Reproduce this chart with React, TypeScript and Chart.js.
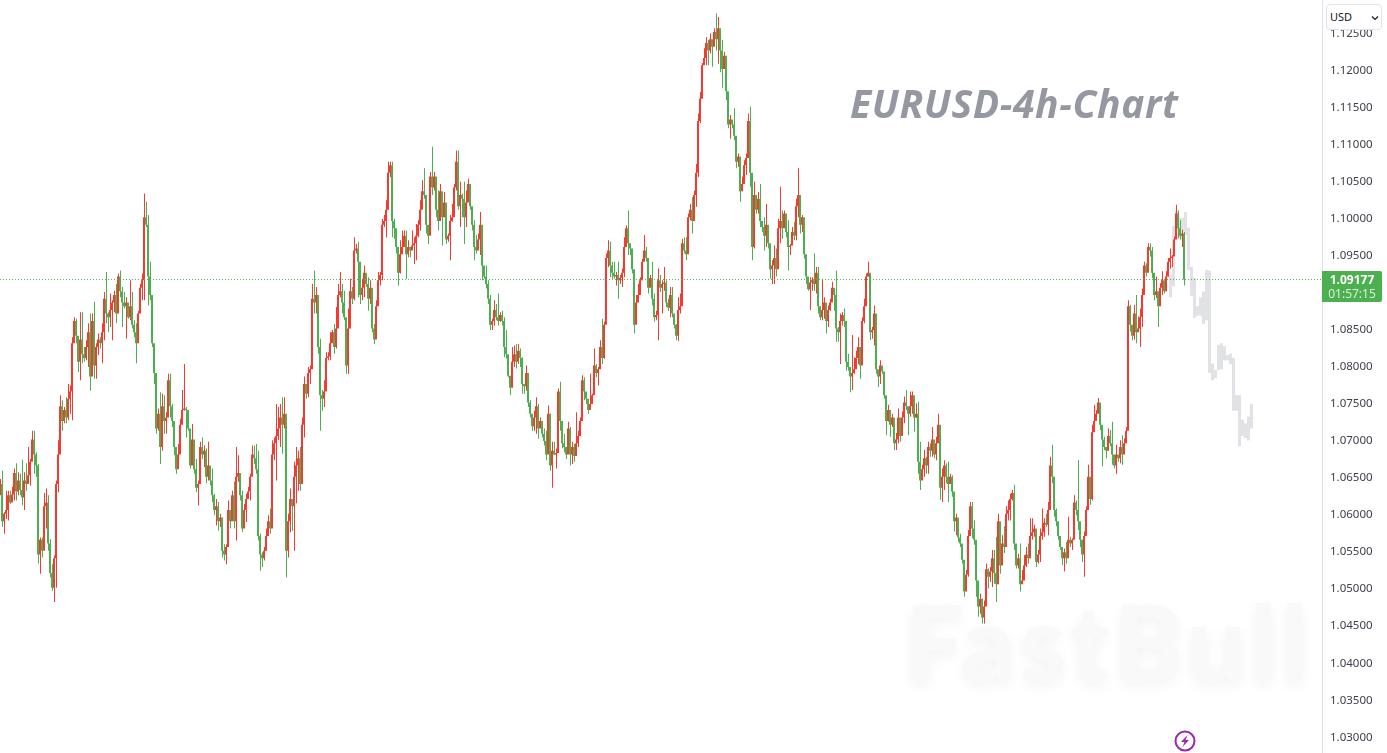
import React, { useEffect, useRef } from "react";
import { Chart, registerables } from "chart.js";

Chart.register(...registerables);

const PIP = 0.0001;
const readingOffsetPips = 1.75;
const upColor = "#F7392F";
const downColor = "#4CAF50";
const ghostColor = "#E1E2E6";
const lastPrice = 1.09177;
const lastLabel = "1.09177";
const countdown = "01:57:15";
const tickValues = [1.03, 1.035, 1.04, 1.045, 1.05, 1.055, 1.06, 1.065, 1.07, 1.075, 1.08, 1.085, 1.09, 1.095, 1.1, 1.105, 1.11, 1.115, 1.12, 1.125];

const highs = [
10647,10658,10602,10631,10631,10631,10636,10661,10668,10656,
10654,10673,10656,10668,10690,10674,10712,10712,10683,10667,
10568,10568,10628,10634,10625,10566,10532,10544,10645,10699,
10760,10753,10744,10757,10775,10773,10838,10865,10863,10838,
10872,10872,10825,10834,10857,10870,10870,10886,10830,10843,
10838,10857,10899,10926,10872,10897,10888,10901,10910,10924,
10928,10906,10899,10892,10872,10915,10899,10861,10857,10874,
10910,10924,11032,11021,11003,10940,10874,10825,10740,10742,
10764,10762,10760,10737,10789,10789,10748,10710,10681,10694,
10728,10767,10802,10744,10733,10690,10721,10694,10674,10645,
10697,10703,10692,10688,10697,10663,10661,10627,10620,10616,
10600,10595,10559,10559,10618,10600,10631,10643,10690,10679,
10645,10631,10613,10627,10636,10654,10692,10692,10694,10685,
10573,10548,10555,10580,10598,10607,10699,10703,10748,10744,
10748,10757,10757,10733,10600,10634,10620,10670,10690,10685,
10690,10730,10785,10775,10798,10800,10910,10928,10906,10895,
10836,10767,10780,10818,10818,10845,
10848,10856,10879,10910,10926,10910,10901,10863,10877,10917,
10906,10973,10964,10967,10910,10917,10935,10922,10919,10915,
10888,10856,10888,10926,10926,10998,11003,11023,11075,11075,
11075,10998,10982,10937,10969,10982,10982,10982,10969,10960,
10982,10973,10991,10996,11023,11050,11066,11018,10982,11061,
11095,11061,11030,11036,11045,11025,11034,10978,10978,11003,
11018,11045,11090,11090,11048,11032,11048,11036,11052,11030,
11005,10996,10976,10978,11007,10946,10926,10935,10915,10895,
10863,10888,10883,10897,10872,10874,10865,10848,10793,10775,
10825,10827,10829,10829,10823,10811,10775,10800,10766,10753,
10730,10739,10757,10748,10730,10715,10715,10712,10746,10735,
10697,10697,10688,10769,10778,10710,10708,10690,10724,10717,
10697,10694,10737,10712,10730,10787,10784,10762,10746,10789,
10762,10823,10802,10798,10834,10863,10859,10951,10969,10967,
10940,10940,10926,10940,10922,10931,10973,10989,11009,10960,
10951,10897,10895,10910,10919,
10944,10976,10960,10940,10922,10940,10897,10874,10931,10922,
10915,10933,10915,10890,10906,10906,10865,10856,10892,10897,
10971,10973,10973,11005,11018,11027,11036,11072,11140,11169,
11208,11228,11243,11239,11248,11239,11255,11275,11270,11237,
11239,11223,11216,11158,11138,11131,11147,11104,11086,11055,
11055,11077,11086,11140,11149,10987,11048,11027,11034,11045,
10991,11000,11018,10987,10958,10942,10962,10958,10998,11041,
11009,11009,10991,10996,10964,10987,10994,11025,11066,11014,
11003,10978,10942,10910,10919,10919,10951,10933,10933,10870,
10917,10892,10879,10881,10890,10913,10901,10928,10852,10870,
10872,10877,10823,10816,10789,10841,10811,10820,10838,10818,
10865,10890,10924,10940,10883,10852,10881,10827,10789,10807,
10798,10789,
10756,10747,10740,10735,10717,10709,10742,10717,10738,10758,
10767,10738,10765,10765,10747,10749,10751,10697,10666,10686,
10677,10697,10695,10717,10699,10704,10735,10664,10661,10672,
10668,10670,10654,10652,10623,10600,10573,10573,10549,10515,
10524,10578,10616,10616,10591,10560,10506,10492,10486,10483,
10533,10526,10528,10551,10551,10569,10600,10544,10571,10583,
10610,10618,10627,10632,10639,10549,10546,10560,10524,10544,
10555,10560,10594,10594,10585,10544,10551,10580,10607,10594,
10600,10616,10677,10693,10625,10607,10585,10567,10551,10553,
10562,10596,10569,10567,10625,10618,10672,10578,10565,10576,
10610,10666,10632,10720,10747,10740,10756,10749,10713,10704,
10690,10715,10713,10724,10675,10693,10679,10699,10706,10702,
10717,10888,
10882,10852,10882,10895,10866,10877,10904,10940,10938,10965,
10965,10960,10922,10920,10891,10911,10927,10911,10927,10945,
10958,10949,10974,11017,11009,10996,10983,10980,
];

const lows = [
10625,10582,10573,10593,10591,10613,10618,10618,10618,10625,
10625,10611,10605,10631,10645,10638,10679,10654,10650,10533,
10519,10541,10560,10580,10550,10514,10496,10481,10500,10629,
10712,10712,10722,10722,10726,10735,10726,10832,10830,10791,
10780,10803,10805,10807,10798,10766,10803,10782,10782,10814,
10823,10803,10834,10857,10845,10852,10834,10872,10857,10897,
10892,10852,10877,10836,10863,10861,10850,10838,10803,10845,
10886,10888,10888,10987,10881,10888,10825,10775,10708,10712,
10667,10685,10708,10708,10746,10730,10717,10679,10654,10661,
10690,10728,10739,10703,10712,10661,10667,10654,10629,10611,
10645,10674,10663,10641,10645,10638,10616,10598,10584,10577,
10582,10541,10537,10532,10577,10580,10595,10580,10564,10643,
10618,10575,10593,10589,10622,10618,10656,10667,10654,10564,
10523,10528,10537,10550,10573,10573,10634,10672,10645,10699,
10690,10681,10715,10514,10541,10575,10577,10550,10614,10631,
10631,10649,10703,10755,10757,10775,10854,10870,10870,10816,
10712,10739,10744,10793,10807,10807,
10834,10816,10823,10859,10892,10870,10861,10789,10789,10856,
10883,10888,10951,10892,10883,10888,10892,10906,10874,10883,
10845,10829,10845,10892,10908,10915,10987,10973,11032,11054,
10973,10971,10951,10908,10924,10953,10960,10917,10946,10946,
10958,10937,10942,10973,10982,11014,11025,10978,10964,11030,
11030,11036,11000,10982,11018,10962,11000,10964,10967,10942,
10994,11027,11036,11010,10987,11000,10964,10987,11025,11010,
10982,10942,10951,10964,10949,10915,10917,10904,10883,10848,
10848,10854,10861,10854,10859,10854,10811,10809,10784,10760,
10782,10798,10796,10802,10798,10762,10762,10766,10744,10730,
10712,10712,10708,10701,10717,10703,10692,10672,10697,10658,
10635,10679,10661,10753,10712,10688,10683,10674,10703,10665,
10667,10670,10690,10690,10708,10739,10753,10748,10735,10744,
10748,10762,10784,10773,10816,10802,10809,10859,10933,10919,
10917,10917,10908,10890,10910,10906,10919,10967,10949,10949,
10924,10843,10877,10888,10899,
10915,10944,10940,10897,10910,10881,10859,10861,10834,10899,
10870,10901,10879,10874,10865,10865,10850,10834,10833,10870,
10895,10951,10942,10987,10996,10978,10996,11014,11054,11127,
11201,11208,11205,11205,11221,11203,11235,11225,11207,11196,
11174,11212,11158,11120,11106,11120,11104,11066,11068,11021,
11037,11057,11057,11086,11041,10942,10958,11005,11005,10987,
10980,10955,10960,10958,10917,10910,10910,10920,10933,10965,
10971,10996,10973,10928,10949,10964,10969,10969,11000,10978,
10980,10944,10910,10901,10875,10901,10901,10897,10870,10861,
10861,10863,10843,10852,10874,10890,10874,10832,10832,10802,
10854,10852,10793,10793,10764,10767,10789,10800,10802,10782,
10809,10857,10917,10920,10834,10836,10827,10789,10771,10775,
10789,10755,
10706,10724,10704,10717,10686,10686,10695,10697,10711,10722,
10740,10706,10731,10735,10711,10729,10654,10632,10648,10650,
10654,10654,10677,10677,10675,10672,10695,10619,10616,10632,
10641,10616,10641,10623,10576,10571,10562,10555,10533,10488,
10501,10515,10585,10567,10558,10488,10461,10465,10452,10452,
10483,10499,10508,10501,10506,10481,10551,10519,10533,10547,
10583,10591,10591,10618,10551,10526,10526,10495,10506,10515,
10528,10533,10540,10565,10569,10528,10533,10535,10565,10569,
10582,10571,10636,10641,10596,10583,10565,10551,10531,10522,
10533,10551,10555,10551,10591,10598,10578,10555,10535,10515,
10591,10612,10612,10618,10713,10726,10740,10713,10664,10686,
10675,10693,10691,10666,10661,10654,10670,10668,10666,10690,
10702,10787,
10846,10834,10835,10830,10846,10825,10852,10913,10920,10938,
10947,10918,10888,10891,10852,10882,10895,10897,10900,10920,
10931,10933,10950,10975,10972,10970,10960,10908,
];

const closes = [
10640,10590,10600,10605,10625,10615,10626,10655,10630,10645,
10632,10622,10645,10640,10652,10670,10700,10680,10665,10545,
10565,10550,10610,10615,10560,10520,10500,10540,10640,10680,
10745,10725,10740,10730,10755,10765,10830,10860,10840,10805,
10835,10815,10810,10825,10845,10785,10860,10800,10825,10835,
10830,10845,10890,10870,10865,10875,10885,10895,10870,10920,
10900,10885,10880,10885,10865,10880,10855,10845,10830,10870,
10905,10915,11000,10990,10920,10895,10830,10790,10715,10735,
10690,10745,10725,10730,10780,10745,10725,10690,10660,10680,
10720,10740,10742,10740,10715,10665,10700,10660,10635,10640,
10690,10680,10685,10650,10665,10645,10625,10605,10610,10590,
10595,10550,10545,10555,10605,10590,10625,10590,10650,10655,
10625,10580,10605,10620,10630,10650,10680,10675,10660,10570,
10545,10540,10550,10570,10590,10580,10680,10695,10705,10715,
10730,10720,10735,10550,10590,10620,10610,10650,10665,10675,
10640,10720,10775,10762,10790,10795,10890,10885,10895,10825,
10760,10755,10765,10810,10812,10830,
10845,10825,10850,10895,10900,10885,10865,10800,10850,10900,
10890,10955,10958,10940,10895,10905,10925,10910,10890,10905,
10850,10835,10880,10915,10922,10990,10995,11010,11060,11070,
10995,10985,10960,10925,10950,10960,10975,10950,10960,10955,
10962,10965,10975,10990,11010,11035,11030,10990,10975,11055,
11040,11055,11010,10995,11035,11000,11020,10970,10975,10995,
11000,11040,11075,11015,11030,11025,11000,11020,11045,11015,
10990,10960,10955,10970,10990,10935,10920,10910,10890,10855,
10860,10875,10865,10860,10868,10860,10825,10815,10786,10770,
10805,10815,10805,10820,10810,10775,10772,10790,10750,10735,
10718,10730,10745,10715,10725,10708,10698,10680,10735,10665,
10685,10680,10682,10765,10725,10695,10690,10680,10715,10680,
10690,10678,10695,10705,10725,10780,10765,10755,10740,10748,
10760,10800,10790,10795,10825,10810,10855,10945,10955,10935,
10925,10920,10922,10915,10918,10925,10960,10985,10965,10958,
10930,10855,10885,10895,10915,
10940,10955,10945,10905,10918,10890,10865,10868,10915,10905,
10910,10912,10885,10878,10895,10870,10855,10840,10875,10880,
10965,10955,10950,11000,11010,10995,11030,11060,11130,11160,
11205,11215,11235,11225,11240,11230,11250,11240,11255,11225,
11200,11218,11170,11125,11132,11125,11110,11075,11082,11035,
11045,11070,11080,11130,11060,10960,11030,11010,11025,10995,
10987,10975,10990,10965,10930,10935,10945,10930,10985,10995,
10985,11005,10980,10960,10962,10980,10975,11015,11030,10990,
11000,10950,10920,10903,10912,10915,10910,10925,10880,10865,
10875,10885,10860,10875,10885,10905,10895,10850,10845,10860,
10868,10860,10805,10798,10785,10790,10795,10810,10825,10800,
10860,10880,10920,10925,10845,10848,10870,10795,10785,10800,
10792,10760,
10725,10740,10720,10730,10695,10700,10730,10705,10730,10750,
10745,10735,10745,10760,10730,10735,10670,10645,10660,10675,
10665,10690,10685,10700,10680,10695,10720,10635,10650,10665,
10650,10640,10650,10630,10590,10595,10568,10560,10538,10495,
10518,10570,10610,10580,10565,10510,10475,10485,10460,10475,
10525,10515,10522,10540,10520,10505,10590,10530,10560,10555,
10600,10605,10620,10628,10560,10530,10540,10505,10510,10530,
10545,10540,10570,10575,10580,10535,10545,10570,10575,10588,
10585,10605,10665,10650,10605,10590,10570,10555,10540,10548,
10540,10565,10560,10565,10615,10605,10590,10565,10545,10570,
10605,10650,10620,10710,10725,10735,10750,10720,10700,10690,
10685,10705,10695,10680,10665,10680,10675,10690,10680,10695,
10712,10880,
10855,10840,10870,10845,10850,10865,10895,10935,10925,10960,
10955,10925,10895,10900,10880,10905,10915,10900,10920,10940,
10945,10947,10970,11005,10985,10975,10978,10915.95,
];

const ghostTops = [10922,10988,11009,10999,10999,11007,10986,10933,10918,10880,10892,10900,10929,10928,10803,10794,10828,10830,10826,10814,10816,10810,10760,10760,10727,10722,10731,10748];
const ghostBottoms = [10892,10907,10970,10970,10970,10976,10929,10894,10864,10867,10867,10856,10861,10790,10780,10783,10794,10795,10807,10807,10802,10739,10739,10691,10705,10702,10699,10715];

const ghostStartBar = 585.25;
const ghostBarStep = 1.5;
const barCount = 661;
const toPrice = (v: number) => (v + readingOffsetPips) * PIP;

export default function App() {
  const ref = useRef<HTMLCanvasElement>(null);
  useEffect(() => {
    const opens = closes.map((c, i) => (i === 0 ? c : closes[i - 1]));
    const colors = closes.map((c, i) => (c >= opens[i] ? upColor : downColor));
    const chart = new Chart(ref.current!, {
      type: "bar",
      data: {
        datasets: [
          {
            type: "line",
            data: [{ x: 0, y: lastPrice }, { x: barCount, y: lastPrice }],
            borderColor: downColor,
            borderWidth: 1,
            borderDash: [1, 2],
            pointRadius: 0,
            order: 0,
          },
          {
            data: closes.map((c, i) => ({ x: i, y: [toPrice(opens[i]), toPrice(c)] })),
            backgroundColor: colors,
            barThickness: 2,
            minBarLength: 1,
            grouped: false,
            inflateAmount: 0,
            order: 1,
          },
          {
            data: highs.map((h, i) => ({ x: i + 0.25, y: [toPrice(lows[i]), toPrice(h)] })),
            backgroundColor: colors,
            barThickness: 1,
            grouped: false,
            inflateAmount: 0,
            order: 2,
          },
          {
            data: ghostTops.map((t, i) => ({ x: ghostStartBar + i * ghostBarStep, y: [toPrice(ghostBottoms[i]), toPrice(t)] })),
            backgroundColor: ghostColor,
            barThickness: 3,
            grouped: false,
            inflateAmount: 0,
            order: 3,
          },
        ] as any,
      },
      options: {
        responsive: false,
        animation: false,
        devicePixelRatio: 1,
        layout: { padding: 0 },
        plugins: { legend: { display: false }, tooltip: { enabled: false } },
        scales: {
          x: { type: "linear", min: 0, max: barCount, display: false, offset: false },
          y: {
            position: "right",
            min: 1.027895,
            max: 1.129485,
            afterFit: (a: any) => {
              a.width = 65;
              a.paddingTop = 0;
              a.paddingBottom = 0;
            },
            afterBuildTicks: (a: any) => { a.ticks = tickValues.map((value) => ({ value })); },
            grid: { display: false, drawTicks: false },
            border: { display: true, color: "#DFE1EA", width: 1 },
            ticks: {
              autoSkip: false,
              padding: 8,
              color: "#3E414B",
              font: { family: "'Noto Sans'", size: 11.5 },
              callback: (v: any) => Number(v).toFixed(5),
            },
          },
        } as any,
      },
    });
    return () => chart.destroy();
  }, []);

  return (
    <div style={{ position: "fixed", left: 0, top: 0, width: 1387, height: 753, overflow: "hidden", background: "#fff" }}>
      <canvas ref={ref} width={1387} height={753} style={{ display: "block", position: "absolute", left: 0, top: 0 }} />
      <div style={{ position: "absolute", left: 850, top: 76, fontFamily: "'Open Sans'", fontWeight: 700, fontStyle: "italic", fontSize: 39, lineHeight: "53px", letterSpacing: 0.65, color: "#9598A1", whiteSpace: "nowrap" }}>EURUSD-4h-Chart</div>
      <div style={{ position: "absolute", left: 905, top: 578, fontFamily: "Lato", fontWeight: 900, fontSize: 104, lineHeight: "125px", letterSpacing: 4.6, color: "rgba(248,248,248,0.92)", textShadow: "0 5px 14px rgba(0,0,0,0.05)", whiteSpace: "nowrap", pointerEvents: "none" }}>FastBull</div>
      <div style={{ position: "absolute", left: 1322, top: 271, width: 60, height: 31, background: "#4CAF50", borderRadius: "0 2px 2px 0", textAlign: "center", fontFamily: "'Noto Sans'", fontSize: 12, lineHeight: "14px", color: "#fff", paddingTop: 2, boxSizing: "border-box" }}>
        <div style={{ fontWeight: 700 }}>{lastLabel}</div>
        <div style={{ color: "rgba(255,255,255,0.8)" }}>{countdown}</div>
      </div>
      <div style={{ position: "absolute", left: 1326, top: 4, width: 56, height: 26, background: "#fff", border: "1px solid #E0E3EB", borderRadius: 4, boxSizing: "border-box", fontFamily: "'Noto Sans'", fontSize: 11, lineHeight: "24px", color: "#131722", paddingLeft: 3 }}>
        USD
        <svg width="8" height="6" style={{ position: "absolute", left: 44, top: 10 }}><path d="M1 1.5 L4 4.5 L7 1.5" fill="none" stroke="#131722" strokeWidth="1.2" /></svg>
      </div>
      <svg width="24" height="24" style={{ position: "absolute", left: 1172.5, top: 728.5 }}>
        <circle cx="12" cy="12" r="9.5" fill="none" stroke="#9C27B0" strokeWidth="2" />
        <path d="M14.5 6 L8 13 L11.5 13 L9.5 18 L16 11 L12.5 11 Z" fill="#9C27B0" />
      </svg>
    </div>
  );
}
